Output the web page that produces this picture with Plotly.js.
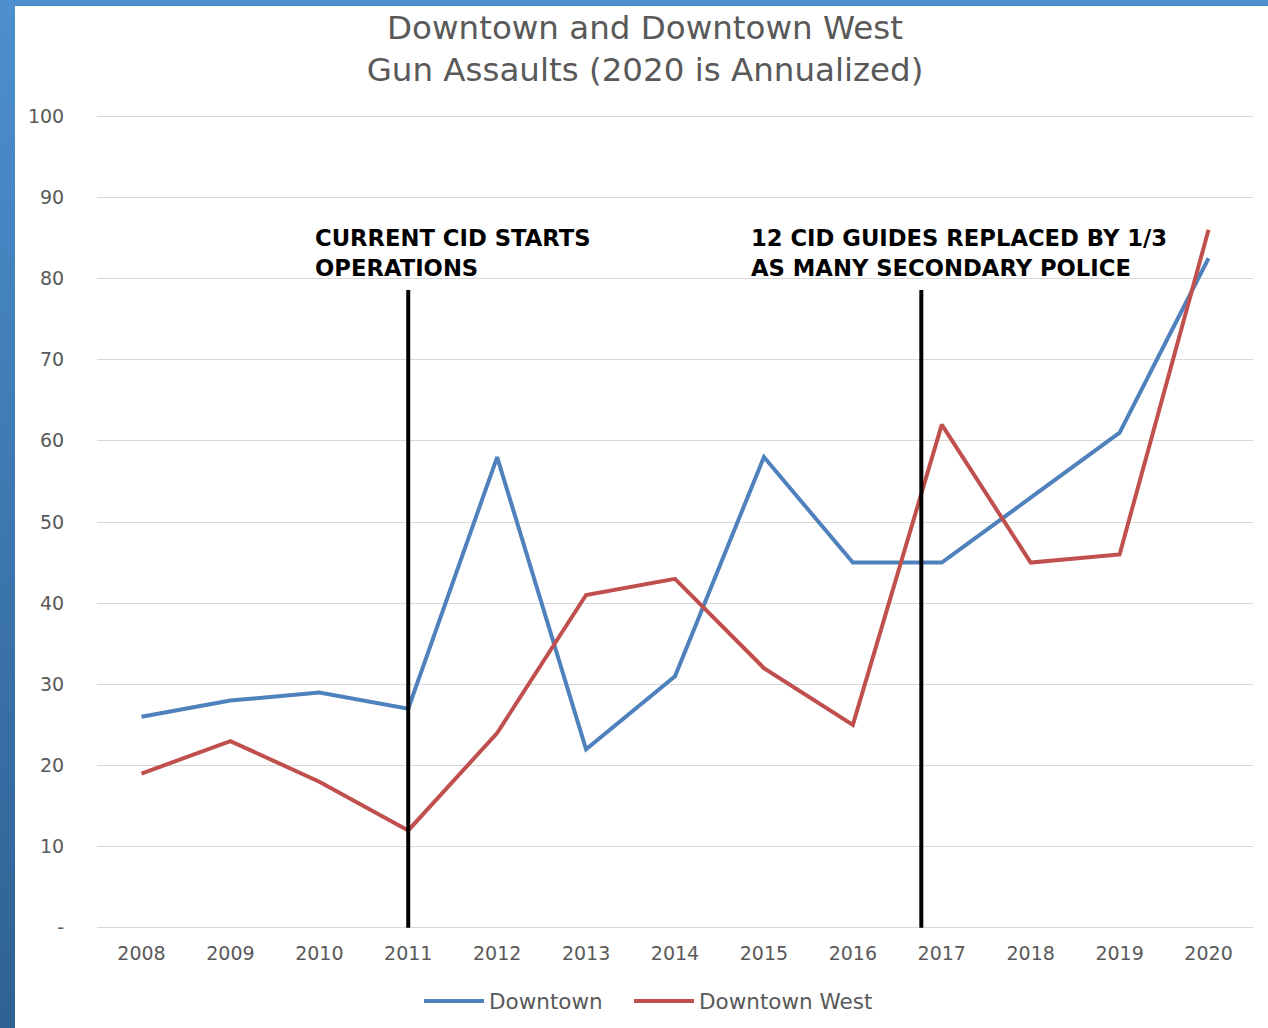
<!DOCTYPE html>
<html>
<head>
<meta charset="utf-8">
<script src="https://cdn.plot.ly/plotly-3.0.1.min.js"></script>
<style>
html,body{margin:0;padding:0;}
body{width:1268px;height:1028px;background:linear-gradient(to bottom,#4d8fcf 0%,#3a73aa 60%,#2f6293 100%);position:relative;overflow:hidden;}
#chart{position:absolute;left:15px;top:6px;width:1253px;height:1022px;background:#fff;}
</style>
</head>
<body>
<div id="chart"></div>
<script>
const years = ['2008','2009','2010','2011','2012','2013','2014','2015','2016','2017','2018','2019','2020'];
const downtown = [26, 28, 29, 27, 58, 22, 31, 58, 45, 45, 53, 61, 82.5];
const downtownWest = [19, 23, 18, 12, 24, 41, 43, 32, 25, 62, 45, 46, 86];
const yTickVals = [0, 10, 20, 30, 40, 50, 60, 70, 80, 90, 100];
const yTickText = ['-', '10', '20', '30', '40', '50', '60', '70', '80', '90', '100'];
const eventPositions = [3, 8.77];      // category index where event lines sit
const eventLineTop = 78.6;
const eventLabels = ['CURRENT CID STARTS<br>OPERATIONS', '12 CID GUIDES REPLACED BY 1/3<br>AS MANY SECONDARY POLICE'];
const eventLabelX = [1.93, 6.83];
const eventLabelY = 86.9;

const gray = '#595959';
const traces = [
  {x: years, y: downtown, name: 'Downtown', type: 'scatter', mode: 'lines',
   line: {color: '#4f81bd', width: 4}, legend: 'legend'},
  {x: years, y: downtownWest, name: 'Downtown West', type: 'scatter', mode: 'lines',
   line: {color: '#c0504d', width: 4}, legend: 'legend2'}
];

const shapes = eventPositions.map(p => ({
  type: 'line', xref: 'x', yref: 'y', x0: p, x1: p, y0: 0, y1: eventLineTop,
  line: {color: '#000', width: 4}
}));
const annotations = eventLabels.map((t, i) => ({
  text: t, xref: 'x', yref: 'y', x: eventLabelX[i], y: eventLabelY,
  xanchor: 'left', yanchor: 'top', align: 'left', showarrow: false,
  font: {family: 'DejaVu Sans', size: 22.7, color: '#000', weight: 'bold'}
}));

const legendBase = {orientation: 'h', xref: 'container', yref: 'container', xanchor: 'left',
  y: (1022 - 995) / 1022, yanchor: 'middle', font: {size: 21.5, color: gray}, itemwidth: 60};

const layout = {
  width: 1253, height: 1022,
  margin: {l: 82, r: 15, t: 109, b: 99},
  paper_bgcolor: '#fff', plot_bgcolor: '#fff',
  font: {family: 'DejaVu Sans', color: gray},
  title: {text: 'Downtown and Downtown West<br>Gun Assaults (2020 is Annualized)',
    x: (645 - 15) / 1253, xanchor: 'center', xref: 'container', yref: 'container', y: 1 - 33 / 1022, yanchor: 'top',
    font: {family: 'DejaVu Sans', size: 32.5, color: gray}},
  xaxis: {type: 'category', range: [-0.5, 12.5], showgrid: false, zeroline: false,
    showline: false, ticks: 'outside', ticklen: 7, tickcolor: 'rgba(0,0,0,0)',
    tickfont: {size: 19, color: gray}, fixedrange: true},
  yaxis: {range: [-0.15, 100.15], tickvals: yTickVals, ticktext: yTickText,
    showgrid: true, gridcolor: '#d9d9d9', gridwidth: 1, zeroline: false,
    showline: false, ticks: 'outside', ticklen: 28, tickcolor: 'rgba(0,0,0,0)',
    tickfont: {size: 19, color: gray}, fixedrange: true},
  showlegend: true,
  legend: Object.assign({}, legendBase, {x: (425 - 15 - 6) / 1253}),
  legend2: Object.assign({}, legendBase, {x: (635 - 15 - 6) / 1253}),
  shapes: shapes,
  annotations: annotations
};

Plotly.newPlot('chart', traces, layout, {displayModeBar: false, staticPlot: true});
</script>
</body>
</html>
